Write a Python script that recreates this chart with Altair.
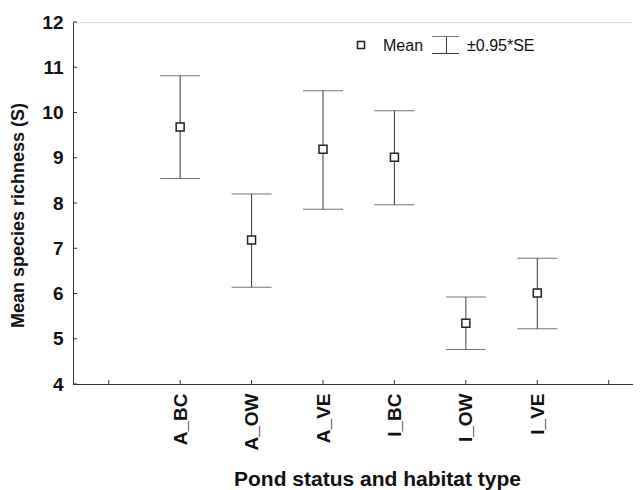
import altair as alt
import pandas as pd

# ---- data ----
categories = ["A_BC", "A_OW", "A_VE", "I_BC", "I_OW", "I_VE"]
positions = [2, 3, 4, 5, 6, 7]
means = [9.68, 7.18, 9.19, 9.01, 5.34, 6.01]
upper = [10.81, 8.20, 10.48, 10.04, 5.92, 6.78]
lower = [8.54, 6.14, 7.86, 7.96, 4.76, 5.22]

x_tick_values = [1, 2, 3, 4, 5, 6, 7, 8]
y_tick_values = [4, 5, 6, 7, 8, 9, 10, 11, 12]
legend_labels = ["Mean", "±0.95*SE"]

FONT = "Liberation Sans"
LINE = "#3a3a3a"

df = pd.DataFrame({"cat": categories, "pos": positions, "mean": means,
                   "hi": upper, "lo": lower})
xt = pd.DataFrame({"k": x_tick_values})
yt = pd.DataFrame({"v": y_tick_values})

label_map = "{" + ",".join(f"'{p}':'{c}'" for p, c in zip(positions, categories)) + "}"
label_expr = f"({label_map})[''+datum.value] || ''"

xscale = alt.Scale(domain=[0.5, 8.34], nice=False, zero=False)
yscale = alt.Scale(domain=[4, 12], nice=False, zero=False)

x_axis = alt.Axis(
    values=x_tick_values, labelExpr=label_expr, ticks=False, grid=False,
    domainColor="#333333", domainWidth=1,
    labelAngle=270, labelPadding=9, labelFont=FONT, labelFontSize=19,
    labelFontWeight="bold", labelColor="#111111",
    title="Pond status and habitat type", titleFont=FONT, titleFontSize=21,
    titleFontWeight="bold", titleColor="#111111",
    titleX=304, titleY=101, titleAlign="center", titleBaseline="alphabetic",
)
y_axis = alt.Axis(
    values=y_tick_values, ticks=False, grid=False,
    domainColor="#333333", domainWidth=1,
    labelPadding=10, labelFont=FONT, labelFontSize=19, labelFontWeight="bold",
    labelColor="#111111",
    title="Mean species richness (S)", titleFont=FONT, titleFontSize=18,
    titleFontWeight="bold", titleColor="#111111",
    titleX=-55, titleY=193, titleAngle=270, titleAlign="center",
    titleBaseline="middle",
)


def X(field):
    return alt.X(field, scale=xscale, axis=x_axis)


def Y(field):
    return alt.Y(field, scale=yscale, axis=y_axis)


base = alt.Chart(df)

stems = base.mark_rule(color=LINE, strokeWidth=1).encode(
    x=X("pos:Q"), y=Y("lo:Q"), y2="hi:Q",
)
caps_hi = base.mark_tick(color=LINE, orient="horizontal", size=40, thickness=1).encode(
    x=X("pos:Q"), y=Y("hi:Q"),
)
caps_lo = base.mark_tick(color=LINE, orient="horizontal", size=40, thickness=1).encode(
    x=X("pos:Q"), y=Y("lo:Q"),
)
points = base.mark_point(shape="square", size=64, filled=False, fill="white",
                         fillOpacity=1, stroke="#222222", strokeWidth=1.5,
                         opacity=1).encode(
    x=X("pos:Q"), y=Y("mean:Q"),
)

# inward ticks
xticks = alt.Chart(xt).mark_rule(color="#333333", strokeWidth=1).encode(
    x=X("k:Q"), y=alt.value(362), y2=alt.value(358),
)
yticks = alt.Chart(yt).mark_rule(color="#333333", strokeWidth=1).encode(
    y=Y("v:Q"), x=alt.value(0), x2=alt.value(4),
)

# legend
leg = pd.DataFrame({"a": [legend_labels[0]], "b": [legend_labels[1]]})
lg = alt.Chart(leg)
leg_sq = lg.mark_point(shape="square", size=49, filled=False, fill="white",
                       fillOpacity=1, stroke="#222222", strokeWidth=1.5).encode(
    x=alt.value(288), y=alt.value(23))
leg_mean = lg.mark_text(align="left", baseline="alphabetic", font=FONT,
                        fontSize=16, color="#111111").encode(
    x=alt.value(310), y=alt.value(29), text="a:N")
leg_stem = lg.mark_rule(color=LINE).encode(
    x=alt.value(373.5), y=alt.value(14.5), y2=alt.value(31.5))
leg_top = lg.mark_rule(color="#777777").encode(
    x=alt.value(359), x2=alt.value(386), y=alt.value(14.5))
leg_bot = lg.mark_rule(color=LINE).encode(
    x=alt.value(359), x2=alt.value(386), y=alt.value(31.5))
leg_se = lg.mark_text(align="left", baseline="alphabetic", font=FONT,
                      fontSize=16, color="#111111").encode(
    x=alt.value(394), y=alt.value(29), text="b:N")

chart = alt.layer(
    stems, caps_hi, caps_lo, points, xticks, yticks,
    leg_sq, leg_mean, leg_stem, leg_top, leg_bot, leg_se,
).properties(
    width=560, height=362,
    autosize=alt.AutoSizeParams(type="none"),
    padding={"left": 65, "top": 14, "right": 0, "bottom": 106},
).configure_view(stroke=None).configure(background="white")

chart.save("out.html", embed_options={"renderer": "svg", "actions": False})
